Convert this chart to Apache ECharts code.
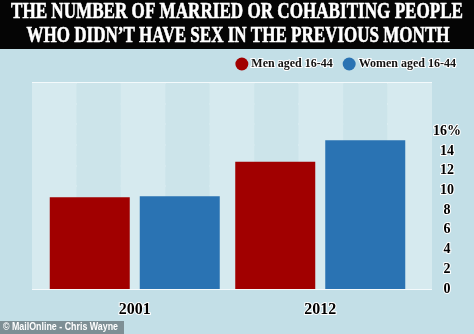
<!DOCTYPE html>
<html><head><meta charset="utf-8">
<script src="https://cdn.jsdelivr.net/npm/echarts@6/dist/echarts.min.js"></script>
<style>html,body{margin:0;padding:0;background:#c3dfe7;}#c{width:474px;height:334px;}</style>
</head><body><div id="c"></div>
<script>
const titleLines = ["THE NUMBER OF MARRIED OR COHABITING PEOPLE", "WHO DIDN\u2019T HAVE SEX IN THE PREVIOUS MONTH"];
const categories = ["2001", "2012"];
const seriesNames = ["Men aged 16-44", "Women aged 16-44"];
const menValues = [9.3, 12.9];
const womenValues = [9.4, 15.1];
const yTickLabels = ["0", "2", "4", "6", "8", "10", "12", "14", "16%"];
const credit = "\u00a9 MailOnline - Chris Wayne";

const serifFont = "'Liberation Serif','DejaVu Serif',serif";
const titleFont = "bold 23px " + serifFont;
const creditFont = "bold 10px 'Liberation Sans',sans-serif";
const mctx = document.createElement('canvas').getContext('2d');
function widthOf(text, font) { mctx.font = font; return mctx.measureText(text).width; }
const titleScale1 = 452 / widthOf(titleLines[0], titleFont);
const titleScale2 = 423 / widthOf(titleLines[1], titleFont);
const creditScale = 115 / widthOf(credit, creditFont);

const chart = echarts.init(document.getElementById('c'), null, {renderer: 'canvas'});
const halo = {textBorderColor: '#ffffff', textBorderWidth: 2};
chart.setOption({
  backgroundColor: '#c3dfe7',
  animation: false,
  graphic: [
    {type: 'rect', x: 0, y: 0, shape: {width: 474, height: 49}, style: {fill: '#050505'}, z: 0},
    {type: 'text', x: 237, y: 1, scaleX: titleScale1, z: 1,
     style: {text: titleLines[0], fill: '#fff', font: titleFont, align: 'center', verticalAlign: 'top', stroke: '#fff', lineWidth: 0.6}},
    {type: 'text', x: 238, y: 25, scaleX: titleScale2, z: 1,
     style: {text: titleLines[1], fill: '#fff', font: titleFont, align: 'center', verticalAlign: 'top', stroke: '#fff', lineWidth: 0.6}},
    {type: 'rect', x: 0, y: 321, shape: {width: 124, height: 13}, style: {fill: '#7e8f95'}, z: 1},
    {type: 'text', x: 3, y: 327.5, scaleX: creditScale, z: 2,
     style: {text: credit, fill: '#fff', font: creditFont, verticalAlign: 'middle'}}
  ],
  legend: {
    right: 12, top: 52, itemWidth: 13, itemHeight: 13, itemGap: 9, icon: 'circle',
    data: seriesNames,
    textStyle: Object.assign({fontFamily: serifFont, fontWeight: 'bold', fontSize: 12, color: '#111', padding: [0, 0, 0, -2]}, halo)
  },
  grid: [
    {left: 32, width: 400, top: 83, height: 206, show: true, backgroundColor: '#d6eaef', borderWidth: 0},
    {left: 42, width: 371, top: 82, height: 207}
  ],
  xAxis: [
    {gridIndex: 0, type: 'value', min: 0, max: 9, interval: 1, axisLine: {show: false}, axisTick: {show: false}, axisLabel: {show: false},
     splitLine: {show: false}, splitArea: {show: true, areaStyle: {color: ['#d6eaef', '#cce4ea']}}},
    {gridIndex: 1, type: 'category', data: categories, axisLine: {show: false}, axisTick: {show: false},
     axisLabel: Object.assign({color: '#000', fontWeight: 'bold', fontSize: 16, fontFamily: serifFont, margin: 13}, halo)}
  ],
  yAxis: [
    {gridIndex: 0, type: 'value', min: 0, max: 10, interval: 1, axisLine: {show: false}, axisTick: {show: false}, axisLabel: {show: false},
     splitLine: {show: true, lineStyle: {color: '#f4fafc', width: 2}}},
    {gridIndex: 1, type: 'value', min: 0, max: 21, interval: 2, position: 'right', axisLine: {show: false}, axisTick: {show: false},
     splitLine: {show: false},
     axisLabel: Object.assign({color: '#000', fontWeight: 'bold', fontSize: 14, fontFamily: serifFont, align: 'center', margin: 34,
       formatter: v => { const i = Math.round(v / 2); return (v <= 16 && i < yTickLabels.length) ? yTickLabels[i] : ''; }}, halo)}
  ],
  series: [
    {name: seriesNames[0], type: 'bar', xAxisIndex: 1, yAxisIndex: 1, data: menValues, barWidth: 80, barGap: '12.5%', itemStyle: {color: '#a10000'}},
    {name: seriesNames[1], type: 'bar', xAxisIndex: 1, yAxisIndex: 1, data: womenValues, barWidth: 80, barGap: '12.5%', itemStyle: {color: '#2a73b3'}}
  ]
});
</script></body></html>
